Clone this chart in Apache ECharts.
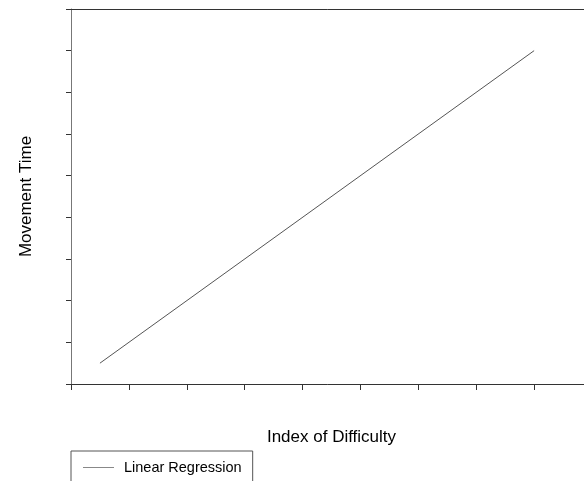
<!DOCTYPE html>
<html>
<head>
<meta charset="utf-8">
<style>
  html, body { margin: 0; padding: 0; background: #fff; }
  #chart { width: 584px; height: 481px; }
</style>
<script src="https://cdn.jsdelivr.net/npm/echarts@6/dist/echarts.min.js"></script>
</head>
<body>
<div id="chart"></div>
<script>
// Data
const seriesName = 'Linear Regression';
const xValues = [0.5, 8];
const yValues = [0.5, 8];
const xAxisTitle = 'Index of Difficulty';
const yAxisTitle = 'Movement Time';
const xRange = [0, 9];
const yRange = [0, 9];

const chart = echarts.init(document.getElementById('chart'));
const font = 'Liberation Sans, Arial, sans-serif';

chart.setOption({
  animation: false,
  backgroundColor: '#ffffff',
  grid: { left: 71, top: 9, width: 521, height: 375, containLabel: false, outerBoundsMode: 'none' },
  legend: {
    left: 71, top: 451,
    orient: 'horizontal',
    data: [{ name: seriesName, icon: 'rect' }],
    itemWidth: 31, itemHeight: 1,
    itemStyle: { color: '#888', borderWidth: 0 },
    padding: [9, 11, 30, 12],
    borderColor: '#555', borderWidth: 1,
    textStyle: { fontFamily: font, fontSize: 14.5, color: '#000', padding: [0, 0, 0, 5] }
  },
  xAxis: [{
    type: 'value', min: xRange[0], max: xRange[1], interval: 1,
    name: xAxisTitle, nameLocation: 'middle', nameGap: 45,
    nameTextStyle: { fontFamily: font, fontSize: 17, color: '#000' },
    axisLine: { show: true, lineStyle: { color: '#333', width: 1 } },
    axisTick: { show: true, length: 6, lineStyle: { color: '#333' } },
    axisLabel: { show: false },
    splitLine: { show: false }
  }, {
    type: 'value', position: 'top', min: xRange[0], max: xRange[1],
    axisLine: { show: true, onZero: false, lineStyle: { color: '#333', width: 1 } },
    axisTick: { show: false }, axisLabel: { show: false }, splitLine: { show: false }
  }],
  yAxis: {
    type: 'value', min: yRange[0], max: yRange[1], interval: 1,
    name: yAxisTitle, nameLocation: 'middle', nameGap: 36,
    nameTextStyle: { fontFamily: font, fontSize: 17, color: '#000' },
    axisLine: { show: true, lineStyle: { color: '#777', width: 1 } },
    axisTick: { show: true, length: 5, lineStyle: { color: '#333' } },
    axisLabel: { show: false },
    splitLine: { show: false }
  },
  series: [{
    name: seriesName,
    type: 'line',
    data: xValues.map((x, i) => [x, yValues[i]]),
    symbol: 'none',
    lineStyle: { color: '#555', width: 1 },
    itemStyle: { color: '#555' }
  }]
});
</script>
</body>
</html>
